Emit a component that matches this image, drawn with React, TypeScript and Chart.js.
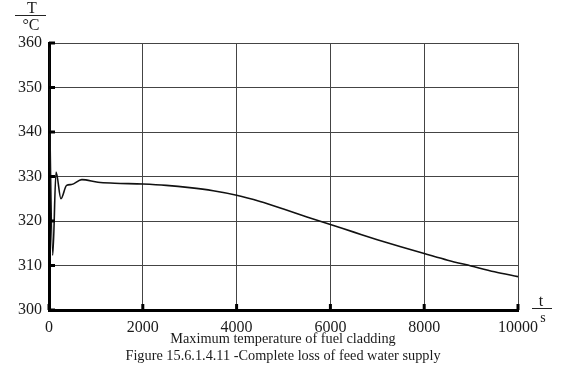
import React, { useEffect, useRef } from "react";
import { Chart, registerables } from "chart.js";

Chart.register(...registerables);

const timeSeconds = [0, 20, 80, 150, 255, 375, 480, 700, 1045, 1400, 2000, 2500, 3000, 3500, 4000, 4500, 5000, 5500, 6000, 6500, 7000, 7500, 8000, 8500, 9000, 9500, 10000];
const maxCladdingTemp = [359, 340, 312.3, 331, 325, 328, 328.2, 329.3, 328.7, 328.5, 328.3, 328.0, 327.5, 326.8, 325.8, 324.4, 322.7, 320.9, 319.2, 317.5, 315.8, 314.2, 312.7, 311.2, 309.9, 308.6, 307.5];
const xTicks = [0, 2000, 4000, 6000, 8000, 10000];
const yTicks = [300, 310, 320, 330, 340, 350, 360];
const captionLine1 = "Maximum temperature of fuel cladding";
const captionLine2 = "Figure 15.6.1.4.11 -Complete loss of feed water supply";

const FONT = "'Liberation Serif', 'DejaVu Serif', serif";

const decorPlugin = {
  id: "decor",
  afterDraw(chart: any) {
    const ctx = chart.ctx as CanvasRenderingContext2D;
    const xs = chart.scales.x;
    const ys = chart.scales.y;
    const area = chart.chartArea;
    ctx.save();
    // inward tick marks
    ctx.strokeStyle = "#000";
    ctx.lineWidth = 3;
    for (const v of yTicks) {
      const y = ys.getPixelForValue(v);
      ctx.beginPath();
      ctx.moveTo(area.left, y);
      ctx.lineTo(area.left + 6, y);
      ctx.stroke();
    }
    for (const v of xTicks) {
      const x = xs.getPixelForValue(v);
      ctx.beginPath();
      ctx.moveTo(x, area.bottom);
      ctx.lineTo(x, area.bottom - 6);
      ctx.stroke();
    }
    ctx.fillStyle = "#1a1a1a";
    ctx.textAlign = "center";
    ctx.textBaseline = "middle";
    // unit label T / °C
    ctx.font = `16px ${FONT}`;
    ctx.fillText("T", 32, 9);
    ctx.fillText("°C", 31, 26);
    ctx.lineWidth = 1;
    ctx.strokeStyle = "#222";
    ctx.beginPath();
    ctx.moveTo(15, 15.5);
    ctx.lineTo(46, 15.5);
    ctx.stroke();
    // t / s
    ctx.fillText("t", 541, 302);
    ctx.beginPath();
    ctx.moveTo(532, 308.5);
    ctx.lineTo(552, 308.5);
    ctx.stroke();
    ctx.font = `14px ${FONT}`;
    ctx.fillText("s", 543, 318);
    // captions
    ctx.font = `14.3px ${FONT}`;
    ctx.fillText(captionLine1, 283, 339);
    ctx.fillText(captionLine2, 283, 356);
    ctx.restore();
  },
};

export default function App() {
  const ref = useRef<HTMLCanvasElement | null>(null);
  useEffect(() => {
    if (!ref.current) return;
    const chart = new Chart(ref.current, {
      type: "line",
      data: {
        datasets: [
          {
            data: timeSeconds.map((t, i) => ({ x: t, y: maxCladdingTemp[i] })),
            borderColor: "#111",
            borderWidth: 1.6,
            pointRadius: 0,
            cubicInterpolationMode: "monotone",
            fill: false,
          },
        ],
      },
      options: {
        animation: false,
        responsive: false,
        maintainAspectRatio: false,
        layout: { padding: { left: 0, top: 43, right: 50, bottom: 0 } },
        plugins: { legend: { display: false }, tooltip: { enabled: false }, title: { display: false } },
        scales: {
          x: {
            type: "linear",
            min: 0,
            max: 10000,
            afterFit: (s: any) => { s.height = 59; },
            afterBuildTicks: (s: any) => { s.ticks = xTicks.map((v) => ({ value: v })); },
            ticks: { color: "#1a1a1a", font: { family: FONT, size: 16 }, padding: 8, maxRotation: 0, autoSkip: false, callback: (v: any) => String(v) },
            grid: { color: "#444", lineWidth: 1, drawTicks: false },
            border: { color: "#000", width: 3 },
          },
          y: {
            type: "linear",
            min: 300,
            max: 360,
            afterFit: (s: any) => { s.width = 49; },
            afterBuildTicks: (s: any) => { s.ticks = yTicks.map((v) => ({ value: v })); },
            ticks: { color: "#1a1a1a", font: { family: FONT, size: 16 }, padding: 7, autoSkip: false, callback: (v: any) => String(v) },
            grid: { color: "#444", lineWidth: 1, drawTicks: false },
            border: { color: "#000", width: 3 },
          },
        },
      },
      plugins: [decorPlugin],
    });
    return () => chart.destroy();
  }, []);
  return (
    <div style={{ position: "fixed", left: 0, top: 0, width: 568, height: 369, background: "#fff" }}>
      <canvas ref={ref} width={568} height={369} style={{ width: 568, height: 369 }} />
    </div>
  );
}
